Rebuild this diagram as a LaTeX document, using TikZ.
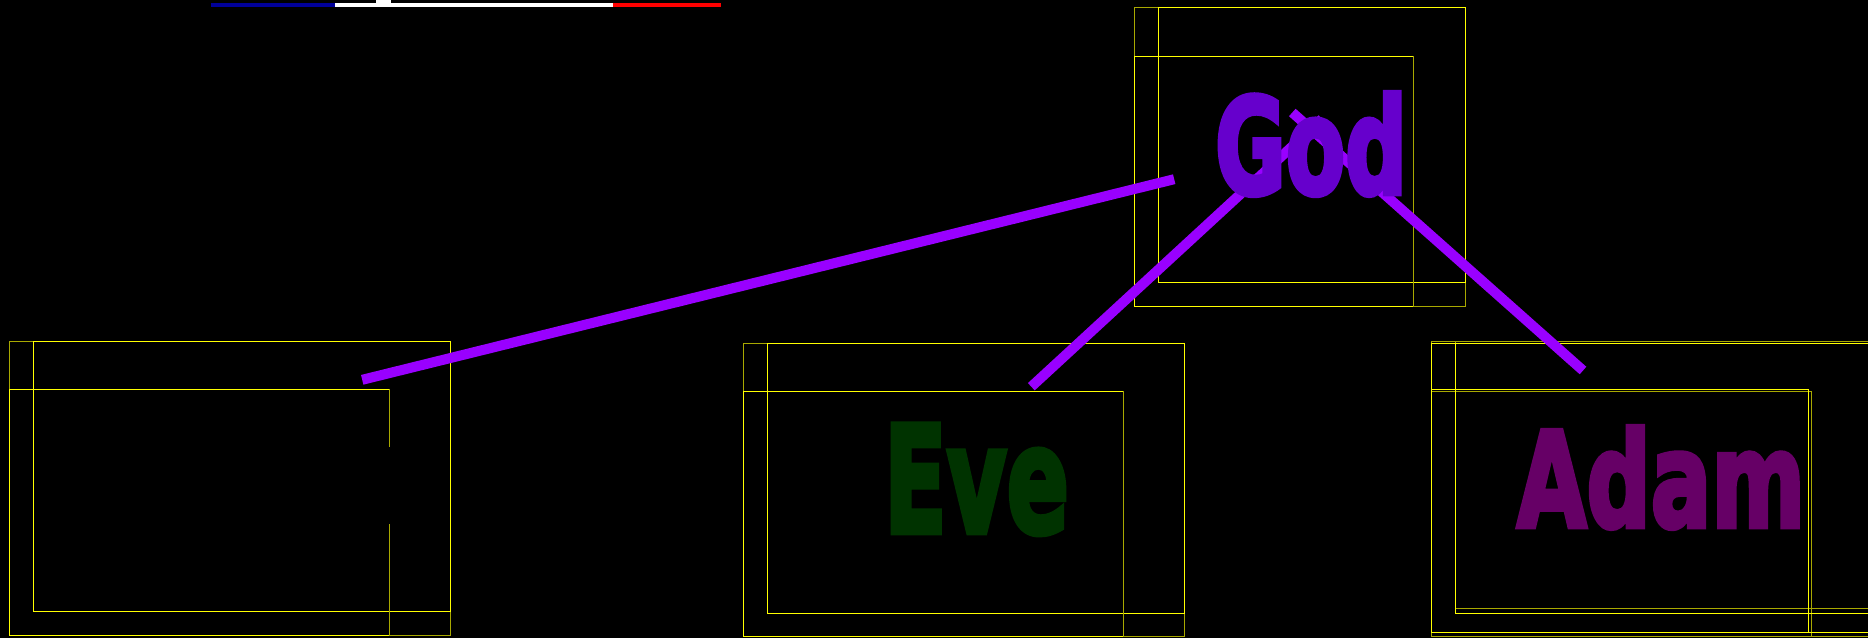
\documentclass[tikz,border=0pt]{standalone}
\usepackage{fontspec}
\newfontfamily\heavyfont{DejaVu Sans}[BoldFeatures={FakeBold=4}]
\definecolor{lineviolet}{HTML}{9900FF}
\definecolor{godc}{HTML}{6600CC}
\definecolor{evec}{HTML}{003300}
\definecolor{adamc}{HTML}{660066}
\definecolor{dimyellow}{HTML}{A8A800}
\definecolor{brightyellow}{HTML}{FFFF00}
\definecolor{flagblue}{HTML}{000099}
\tikzset{
  bright/.style={draw=brightyellow, line width=1pt},
  dim/.style={draw=dimyellow, line width=1pt},
  link/.style={draw=lineviolet, line width=10pt},
  namelabel/.style={inner sep=0pt, outer sep=0pt, anchor=south west},
}
\begin{document}
\begin{tikzpicture}[x=1pt,y=-1pt]
\clip (0,0) rectangle (1868,638);
\fill[black] (0,0) rectangle (1868,638);
% flag bar
\fill[flagblue] (211,2.9) rectangle (335,7.1);
\fill[white] (335,2.9) rectangle (613,7.1);
\fill[red] (613,2.9) rectangle (721,7.1);
\fill[white] (376,0) rectangle (391,3);
% left box
\draw[dim] (9.3,341.7) rectangle (450.3,635.7);
\draw[bright] (33.3,341.7) rectangle (450.3,611.7);
\draw[bright] (389,389.3) -- (9.3,389.3) -- (9.3,635.7) -- (389,635.7);
\draw[dim] (389,389.3) -- (389,447.3) (389,524) -- (389,635.7);
% Eve box
\draw[dim] (743.3,343.3) rectangle (1184,636.7);
\draw[bright] (767.3,343.3) rectangle (1184,613.3);
\draw[bright] (1123.3,391.3) -- (743.3,391.3) -- (743.3,636.7) -- (1123.3,636.7);
\draw[dim] (1123.3,391.3) -- (1123.3,636.7);
% God box
\draw[dim] (1134.3,7.3) rectangle (1465.7,306);
\draw[bright] (1158.3,7.3) rectangle (1465.7,282.3);
\draw[bright] (1413.3,56) -- (1134.3,56) -- (1134.3,306) -- (1413.3,306);
\draw[dim] (1413.3,56) -- (1413.3,306);
% Adam box (drawn twice)
\draw[dim] (1431.7,341.7) rectangle (1880,636.7);
\draw[dim] (1455.3,341.7) rectangle (1880,608.3);
\draw[dim] (1431.7,391.3) rectangle (1811,636.7);
\draw[bright] (1431.7,343.3) rectangle (1880,632.7);
\draw[bright] (1455.3,343.3) rectangle (1880,613.3);
\draw[bright] (1431.7,389.3) rectangle (1808.7,632.7);
% connector end points
\coordinate (leftend) at (362.2,379.8);
\coordinate (leftgod) at (1174.2,179.2);
\coordinate (eveend) at (1031.3,386.7);
\coordinate (godeve) at (1322,119);
\coordinate (godadam) at (1292.3,112.5);
\coordinate (adamend) at (1583,370.5);
\draw[link] (leftend) -- (leftgod);
\draw[link] (eveend) -- (godeve);
\draw[link] (godadam) -- (adamend);
% names
\node[namelabel, text=godc] (god) at (1215,195.5) {\resizebox{192pt}{101pt}{\heavyfont\bfseries God}};
\node[namelabel, text=evec] (eve) at (884,534.5) {\resizebox{185pt}{108pt}{\heavyfont\bfseries Eve}};
\node[namelabel, text=adamc] (adam) at (1517,528.5) {\resizebox{288pt}{100pt}{\heavyfont\bfseries Adam}};
\end{tikzpicture}
\end{document}
